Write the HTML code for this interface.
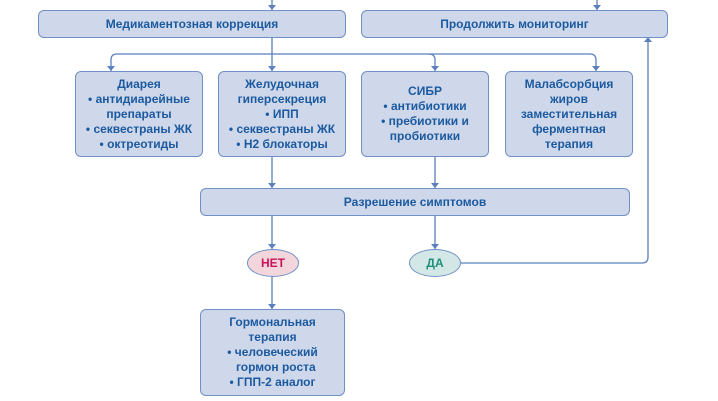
<!DOCTYPE html>
<html><head><meta charset="utf-8"><style>
body{margin:0;width:718px;height:401px;background:#fff;position:relative;overflow:hidden;font-family:"Liberation Sans",sans-serif;}
.b{position:absolute;box-sizing:border-box;background:#cfd8ea;border:1.5px solid #6f90c4;border-radius:6px;color:#1c5aa0;font-weight:bold;font-size:12px;line-height:15px;text-align:center;display:flex;flex-direction:column;justify-content:center;align-items:center;}
.e{position:absolute;box-sizing:border-box;border:1.5px solid #6f90c4;border-radius:50%;font-weight:bold;font-size:12px;display:flex;align-items:center;justify-content:center;}
svg{position:absolute;left:0;top:0}
</style></head><body>
<svg width="718" height="401">
<g stroke="#5b80bd" stroke-width="1.3" fill="none">
<line x1="272" y1="0" x2="272" y2="10"/>
<line x1="597" y1="0" x2="597" y2="10"/>
<line x1="272" y1="37" x2="272" y2="71"/>
<path d="M111,71 V60 Q111,54 117,54 H590 Q596,54 596,60 V71"/>
<path d="M429,54 Q435,54 435,60 V71" />
<line x1="272" y1="156" x2="272" y2="188"/>
<line x1="435" y1="156" x2="435" y2="188"/>
<line x1="272" y1="216" x2="272" y2="249"/>
<line x1="435" y1="216" x2="435" y2="249"/>
<line x1="272" y1="277" x2="272" y2="309"/>
<path d="M460,263 H642 Q648,263 648,257 V37"/>
</g>
<g fill="#5b80bd">
<path d="M268,5 h8 l-4,5z"/><path d="M593,5 h8 l-4,5z"/>
<path d="M268,66 h8 l-4,5z"/><path d="M107,66 h8 l-4,5z"/><path d="M431,66 h8 l-4,5z"/><path d="M592,66 h8 l-4,5z"/>
<path d="M268,183 h8 l-4,5z"/><path d="M431,183 h8 l-4,5z"/>
<path d="M268,244 h8 l-4,5z"/><path d="M431,244 h8 l-4,5z"/>
<path d="M268,304 h8 l-4,5z"/><path d="M644,42 h8 l-4,-5z"/>
</g>
</svg>
<div class="b" style="left:38px;top:10px;width:308px;height:28px">Медикаментозная коррекция</div>
<div class="b" style="left:361px;top:10px;width:307px;height:28px">Продолжить мониторинг</div>
<div class="b" style="left:75px;top:71px;width:128px;height:86px">Диарея<br>• антидиарейные<br>препараты<br>• секвестраны ЖК<br>• октреотиды</div>
<div class="b" style="left:218px;top:71px;width:128px;height:86px">Желудочная<br>гиперсекреция<br>• ИПП<br>• секвестраны ЖК<br>• Н2 блокаторы</div>
<div class="b" style="left:361px;top:71px;width:128px;height:86px">СИБР<br>• антибиотики<br>• пребиотики и<br>пробиотики</div>
<div class="b" style="left:505px;top:71px;width:128px;height:86px">Малабсорбция<br>жиров<br>заместительная<br>ферментная<br>терапия</div>
<div class="b" style="left:200px;top:188px;width:430px;height:28px">Разрешение симптомов</div>
<div class="e" style="left:247px;top:249px;width:52px;height:28px;background:#f2d6dc;color:#c8145a">НЕТ</div>
<div class="e" style="left:409px;top:249px;width:52px;height:28px;background:#d3e8e6;color:#1f8f7a">ДА</div>
<div class="b" style="left:200px;top:309px;width:145px;height:87px">Гормональная<br>терапия<br>• человеческий<br>&nbsp;&nbsp;гормон роста<br>• ГПП-2 аналог</div>
</body></html>
